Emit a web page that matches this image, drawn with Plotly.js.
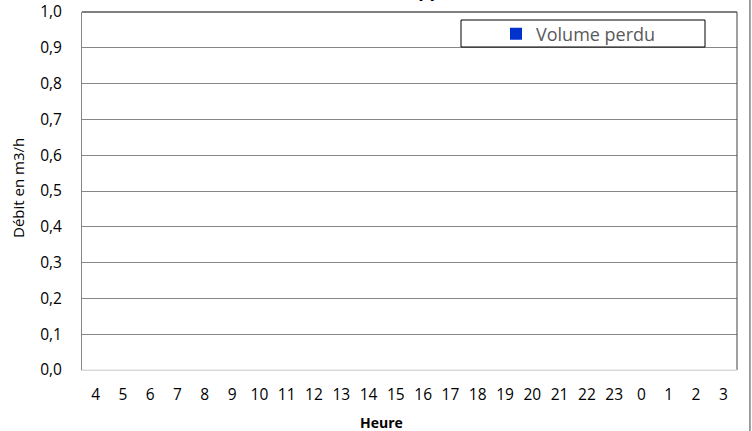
<!DOCTYPE html>
<html>
<head>
<meta charset="utf-8">
<script src="https://cdn.plot.ly/plotly-3.0.1.min.js"></script>
<style>html,body{margin:0;padding:0;background:#fff}#chart{width:752px;height:431px}</style>
</head>
<body>
<div id="chart"></div>
<script>
// Data
const hours = ['4','5','6','7','8','9','10','11','12','13','14','15','16','17','18','19','20','21','22','23','0','1','2','3'];
const volumePerdu = [0,0,0,0,0,0,0,0,0,0,0,0,0,0,0,0,0,0,0,0,0,0,0,0];
const seriesName = 'Volume perdu';
const chartTitle = 'Débit approximatif';
const xTitle = 'Heure';
const yTitle = 'Débit en m3/h';

const FONT = '"Open Sans", "Noto Sans", sans-serif';

const trace = {
  type: 'bar',
  x: hours,
  y: volumePerdu,
  name: seriesName,
  marker: {color: '#0033CC', line: {width: 0}},
  showlegend: true,
  hoverinfo: 'skip'
};

const layout = {
  width: 752, height: 431,
  margin: {l: 82, r: 15, t: 12, b: 61, pad: 0},
  paper_bgcolor: '#ffffff', plot_bgcolor: '#ffffff',
  separators: ', ',
  font: {family: FONT, size: 15, color: '#000'},
  showlegend: true,
  legend: {
    x: (496-82)/655, y: 0.99, xanchor: 'left', yanchor: 'top',
    bgcolor: 'rgba(0,0,0,0)', borderwidth: 0,
    font: {family: FONT, size: 18, color: '#595959'},
    itemwidth: 30
  },
  xaxis: {
    type: 'category',
    range: [-0.5, 23.5],
    showgrid: false, zeroline: false,
    showline: true, linecolor: '#d9d9d9', linewidth: 1,
    ticks: '', ticklabelstandoff: 10,
    tickfont: {family: FONT, size: 15.5, color: '#000'},
    fixedrange: true
  },
  yaxis: {
    range: [0, 1], dtick: 0.1, tick0: 0,
    tickformat: '.1f',
    showgrid: true, gridcolor: '#868686', gridwidth: 1,
    zeroline: false,
    showline: true, linecolor: '#868686', linewidth: 1,
    ticks: '', ticklabelstandoff: 16,
    tickfont: {family: FONT, size: 15.5, color: '#000'},
    fixedrange: true
  },
  shapes: [
    {type: 'line', xref: 'paper', yref: 'paper', x0: 0, x1: 1, y0: 1, y1: 1, line: {color: '#000', width: 1}},
    {type: 'line', xref: 'paper', yref: 'paper', x0: 1, x1: 1, y0: 0, y1: 1, line: {color: '#404040', width: 1}},
    {type: 'line', xref: 'paper', yref: 'paper', x0: 0, x1: 1, y0: 0, y1: 0, line: {color: '#d9d9d9', width: 1}},
    {type: 'line', xref: 'paper', yref: 'paper', x0: 1.0198, x1: 1.0198, y0: -0.2, y1: 1.04, line: {color: '#404040', width: 1}},
    {type: 'rect', xref: 'paper', yref: 'paper', x0: (461-82)/655, x1: (705-82)/655, y0: (370-47)/358, y1: (370-20)/358, line: {color: '#000', width: 1}, fillcolor: 'rgba(0,0,0,0)'}
  ],
  annotations: [
    {text: '<b>' + chartTitle + '</b>', xref: 'paper', yref: 'paper', x: (352-82)/655, xanchor: 'left', y: 1 + (12-4)/358, yanchor: 'bottom', showarrow: false, font: {family: FONT, size: 18, color: '#000'}},
    {text: '<b>' + xTitle + '</b>', xref: 'paper', yref: 'paper', x: (381-82)/655, xanchor: 'center', y: -(422-370)/358, yanchor: 'middle', showarrow: false, font: {family: FONT, size: 14, color: '#000'}},
    {text: yTitle, xref: 'paper', yref: 'paper', x: -(82-18)/655, xanchor: 'center', y: (370-188)/358, yanchor: 'middle', textangle: -90, showarrow: false, font: {family: FONT, size: 15, color: '#000'}}
  ]
};

Plotly.newPlot('chart', [trace], layout, {staticPlot: true, displayModeBar: false});
</script>
</body>
</html>
